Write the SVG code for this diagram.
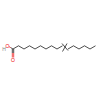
<svg xmlns="http://www.w3.org/2000/svg" width="100" height="100" viewBox="0 0 100 100">
<style>
.b{stroke:#000;stroke-width:0.7;fill:none}
.r{stroke:#e00;stroke-width:0.7;fill:none}
.t{font-family:"Liberation Sans",sans-serif;font-size:5px;text-anchor:middle}
</style>
<rect width="100" height="100" fill="#fff"/>
<g id="bonds">
<polyline class="b" points="13,49 18.5,45.8 24,49 29.5,45.8 35,49 40.5,45.8 46,49 51.5,45.8 57,49 62.5,45.8"/>
<line class="b" x1="62" y1="43.5" x2="68" y2="50.5"/>
<line class="b" x1="62.5" y1="51.5" x2="67" y2="43.5"/>
<polyline class="b" points="68,49 73.5,45.8 79,49 84.5,45.8 90,49 95.5,45.8"/>
<line class="b" x1="13" y1="49" x2="10.5" y2="47.5"/>
<line class="r" x1="10.5" y1="47.5" x2="9" y2="46.6"/>
<line class="b" x1="12.3" y1="49" x2="12.3" y2="53"/>
<line class="b" x1="13.7" y1="49" x2="13.7" y2="53"/>
<line class="r" x1="12.3" y1="53" x2="12.3" y2="57.5"/>
<line class="r" x1="13.7" y1="53" x2="13.7" y2="57.5"/>
</g>
<g id="OH"><text class="t" x="4" y="50.5" fill="#888">H</text><text class="t" x="7.5" y="47.5" fill="#e00">O</text></g>
<g id="O"><text class="t" x="13" y="62" fill="#e00">O</text></g>
</svg>
